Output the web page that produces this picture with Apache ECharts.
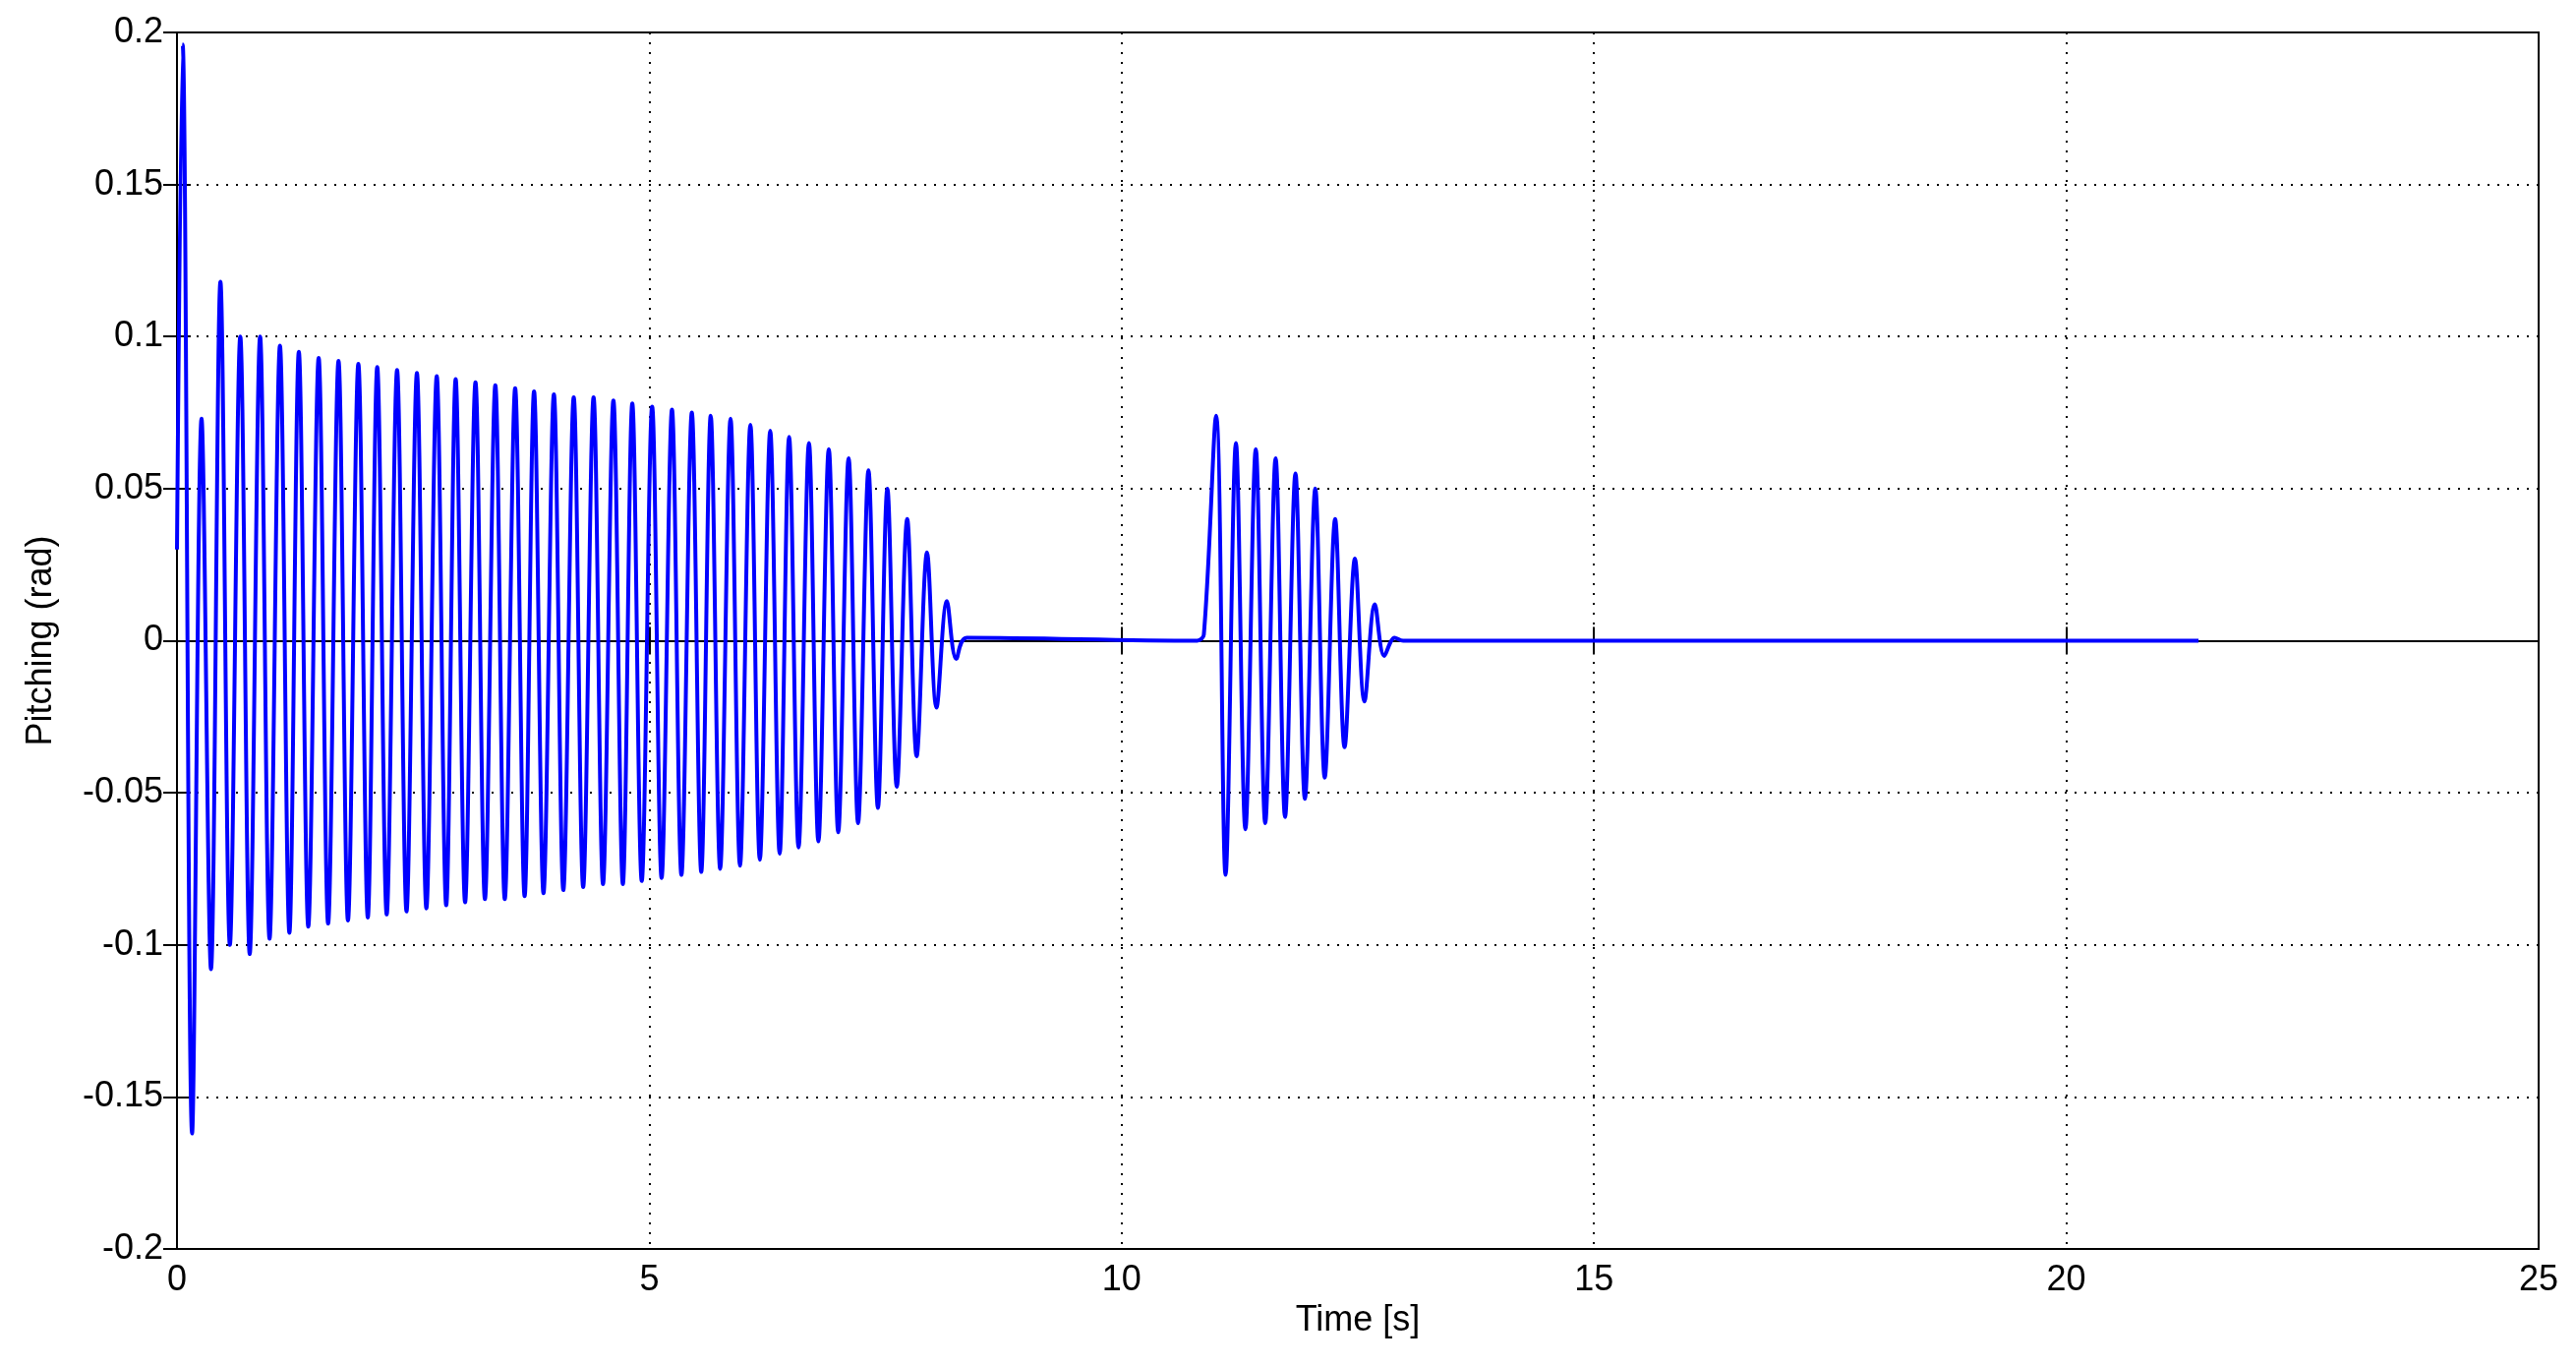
<!DOCTYPE html>
<html><head><meta charset="utf-8">
<script src="https://cdn.jsdelivr.net/npm/echarts@6/dist/echarts.min.js"></script>
<style>html,body{margin:0;background:#fff}#c{width:2620px;height:1389px}</style>
</head><body><div id="c"></div>
<script>
const peakT1 = [0.06,0.26,0.46,0.67,0.88,1.09,1.29,1.50,1.71,1.92,2.12,2.33,2.54,2.75,2.95,3.16,3.37,3.58,3.78,3.99,4.20,4.41,4.62,4.82,5.03,5.24,5.45,5.65,5.86,6.07,6.28,6.48,6.69,6.90,7.11,7.32,7.52,7.73,7.94,8.15];
const peakV1 = [0.196,0.073,0.118,0.100,0.100,0.097,0.095,0.093,0.092,0.091,0.090,0.089,0.088,0.087,0.086,0.085,0.084,0.083,0.082,0.081,0.080,0.080,0.079,0.078,0.077,0.076,0.075,0.074,0.073,0.071,0.069,0.067,0.065,0.063,0.060,0.056,0.050,0.040,0.029,0.013];
const troughT1 = [0.16,0.36,0.56,0.77,0.98,1.19,1.39,1.60,1.81,2.02,2.22,2.43,2.64,2.85,3.05,3.26,3.47,3.68,3.88,4.09,4.30,4.51,4.72,4.92,5.13,5.34,5.55,5.75,5.96,6.17,6.38,6.58,6.79,7.00,7.21,7.42,7.62,7.83,8.04,8.25];
const troughV1 = [-0.162,-0.108,-0.100,-0.103,-0.098,-0.096,-0.094,-0.093,-0.092,-0.091,-0.090,-0.089,-0.088,-0.087,-0.086,-0.085,-0.085,-0.084,-0.083,-0.082,-0.081,-0.080,-0.080,-0.079,-0.078,-0.077,-0.076,-0.075,-0.074,-0.072,-0.070,-0.068,-0.066,-0.063,-0.060,-0.055,-0.048,-0.038,-0.022,-0.006];
const peakT2 = [11.00,11.21,11.42,11.63,11.84,12.05,12.26,12.47,12.68,12.89];
const peakV2 = [0.074,0.065,0.063,0.060,0.055,0.050,0.040,0.027,0.012,0.001];
const troughT2 = [11.10,11.31,11.52,11.73,11.94,12.15,12.36,12.57,12.78];
const troughV2 = [-0.077,-0.062,-0.060,-0.058,-0.052,-0.045,-0.035,-0.020,-0.005];
const flatPts = [[0,0.03],[8.36,0.001],[10.80,0.0],[10.87,0.002],[12.98,0.0],[21.4,0.0]];

let pts = flatPts.slice();
peakT1.forEach((t,i)=>pts.push([t,peakV1[i]]));
troughT1.forEach((t,i)=>pts.push([t,troughV1[i]]));
peakT2.forEach((t,i)=>pts.push([t,peakV2[i]]));
troughT2.forEach((t,i)=>pts.push([t,troughV2[i]]));
pts.sort((a,b)=>a[0]-b[0]);

const font = 'Liberation Sans, Arial, sans-serif';
const grid = {show:true, lineStyle:{color:'#000', type:[2,8], width:2}};
const chart = echarts.init(document.getElementById('c'));
chart.setOption({
  animation:false,
  grid:{left:180,right:38,top:33,bottom:119,show:true,borderColor:'#000',borderWidth:2},
  xAxis:[{type:'value',min:0,max:25,interval:5,name:'Time [s]',nameLocation:'middle',nameGap:55,
    nameTextStyle:{fontFamily:font,fontSize:36,color:'#000'},
    axisLine:{lineStyle:{color:'#000',width:2}},axisTick:{inside:true,length:14,lineStyle:{color:'#000',width:2}},
    axisLabel:{fontFamily:font,fontSize:36,color:'#000',margin:14},splitLine:grid},
    {type:'value',position:'top',min:0,max:25,interval:5,axisLine:{lineStyle:{color:'#000',width:2}},
    axisTick:{inside:true,length:14,lineStyle:{color:'#000',width:2}},axisLabel:{show:false},splitLine:{show:false}}],
  yAxis:[{type:'value',min:-0.2,max:0.2,interval:0.05,name:'Pitching (rad)',nameLocation:'middle',nameGap:120,
    nameTextStyle:{fontFamily:font,fontSize:36,color:'#000'},
    axisLine:{lineStyle:{color:'#000',width:2}},axisTick:{inside:true,length:14,lineStyle:{color:'#000',width:2}},
    axisLabel:{fontFamily:font,fontSize:36,color:'#000',margin:14,formatter:v=>String(+v.toFixed(2))},splitLine:grid},
    {type:'value',position:'right',min:-0.2,max:0.2,interval:0.05,axisLine:{lineStyle:{color:'#000',width:2}},
    axisTick:{inside:true,length:14,lineStyle:{color:'#000',width:2}},axisLabel:{show:false},splitLine:{show:false}}],
  series:[{type:'line',data:pts,showSymbol:false,smooth:0.35,lineStyle:{color:'#0000ff',width:4}}]
});
</script></body></html>
